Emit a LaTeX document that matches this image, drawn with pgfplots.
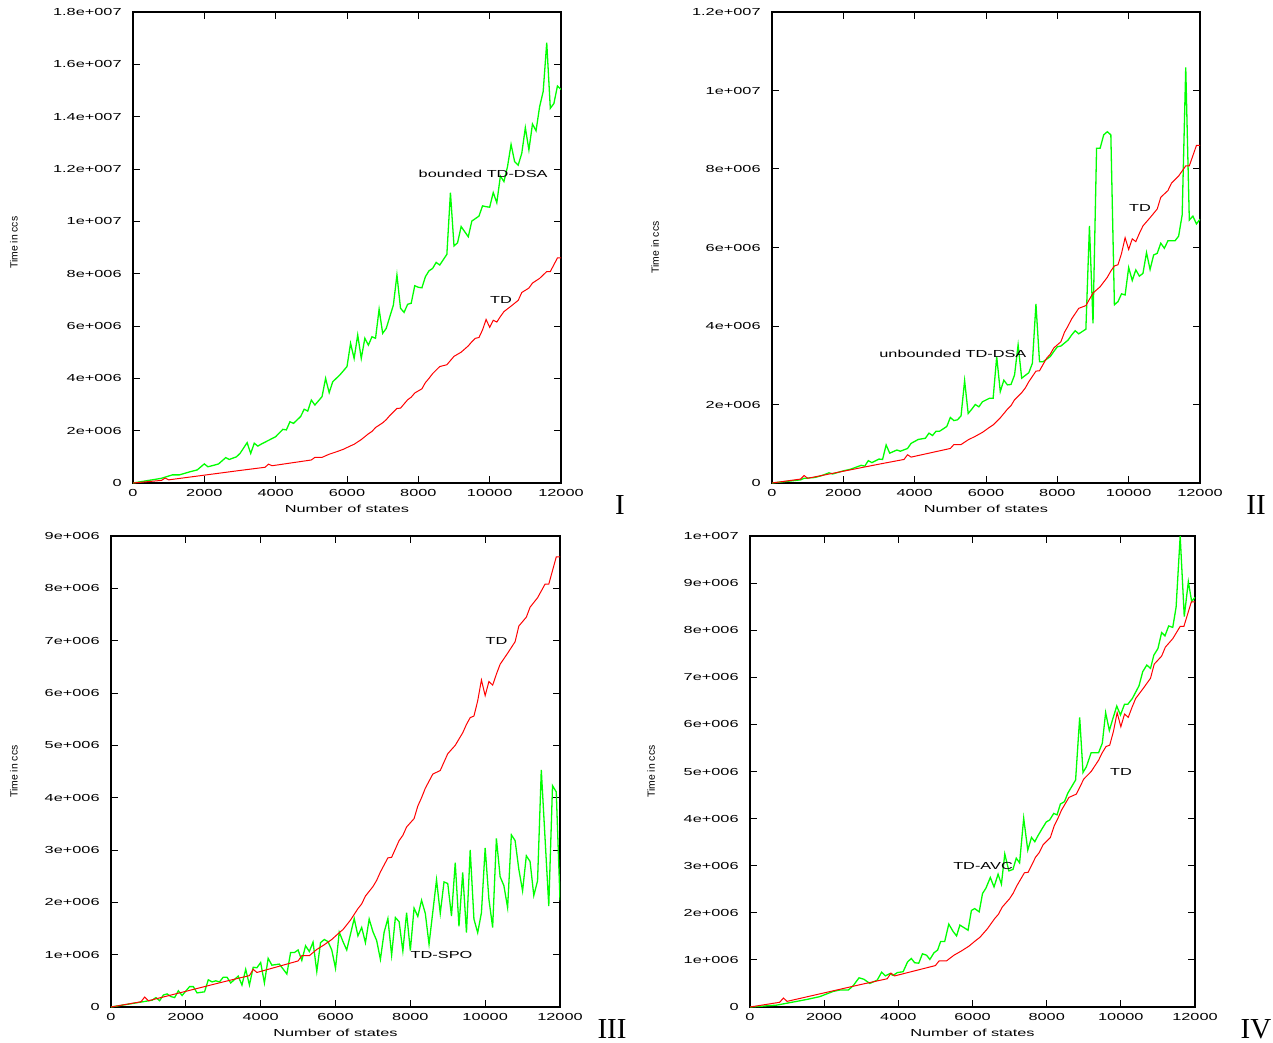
\documentclass[border=0pt]{standalone}
\usepackage{fontspec}
\usepackage{pgfplots}
\pgfplotsset{compat=1.18}
\usepackage{pgfplotstable}

\newfontfamily\gpfont[FakeStretch=1.6]{Liberation Sans}
\newfontfamily\labfont{Liberation Sans}
\newfontfamily\romfont{Liberation Serif}
\newcommand\gp{\gpfont\fontsize{5.1}{6}\selectfont}
\definecolor{gpgreen}{RGB}{0,255,0}
\definecolor{gpred}{RGB}{255,0,0}

% times in units of 1e6 ccs
\pgfplotstableread{
x y
0 0
800 0.10
900 0.19
1000 0.12
2000 0.30
3000 0.48
3700 0.60
3800 0.72
3900 0.66
4500 0.78
5000 0.88
5100 0.98
5300 0.98
5500 1.10
5700 1.19
5900 1.29
6100 1.42
6200 1.48
6400 1.66
6600 1.88
6700 1.97
6800 2.12
7000 2.30
7100 2.42
7200 2.58
7400 2.85
7500 2.86
7700 3.18
7800 3.28
7900 3.44
8100 3.60
8200 3.84
8300 4.00
8400 4.18
8600 4.45
8800 4.52
9000 4.84
9100 4.92
9200 5.00
9400 5.24
9500 5.40
9600 5.53
9700 5.56
9800 5.85
9900 6.25
10000 5.95
10100 6.22
10200 6.15
10300 6.36
10400 6.55
10600 6.76
10800 6.98
10900 7.28
11100 7.45
11200 7.64
11400 7.82
11600 8.08
11700 8.08
11900 8.60
12000 8.60
}\td

\pgfplotstableread{
x y
0 0
800 0.18
1100 0.31
1300 0.31
1600 0.43
1800 0.50
2000 0.73
2100 0.62
2300 0.69
2400 0.73
2600 0.97
2700 0.90
2900 1.00
3000 1.13
3200 1.54
3300 1.13
3400 1.52
3500 1.41
3600 1.49
4000 1.77
4200 2.05
4300 2.03
4400 2.34
4500 2.28
4700 2.54
4800 2.82
4900 2.75
5000 3.17
5100 2.98
5300 3.30
5400 4.00
5500 3.45
5600 3.87
5800 4.13
6000 4.45
6100 5.34
6200 4.76
6300 5.66
6400 4.76
6500 5.53
6600 5.27
6700 5.59
6800 5.53
6900 6.64
7000 5.72
7100 5.91
7300 6.80
7400 7.95
7500 6.68
7600 6.52
7700 6.83
7800 6.87
7900 7.54
8000 7.48
8100 7.46
8200 7.89
8300 8.11
8400 8.20
8500 8.43
8600 8.33
8800 8.74
8900 11.10
9000 9.06
9100 9.18
9200 9.80
9400 9.41
9500 10.01
9700 10.20
9800 10.59
9900 10.56
10000 10.54
10100 11.10
10200 10.71
10300 11.73
10400 11.52
10500 12.09
10600 12.94
10700 12.28
10800 12.15
10900 12.60
11000 13.58
11100 12.73
11200 13.72
11300 13.46
11400 14.38
11500 14.96
11600 16.83
11700 14.32
11800 14.50
11900 15.17
12000 15.04
}\bounded

\pgfplotstableread{
x y
0 0
800 0.08
900 0.12
1200 0.14
1400 0.19
1600 0.26
1700 0.23
2000 0.31
2200 0.35
2500 0.45
2600 0.43
2700 0.57
2800 0.52
3000 0.61
3100 0.60
3200 0.97
3300 0.76
3500 0.84
3600 0.81
3800 0.88
3900 1.01
4100 1.11
4300 1.14
4400 1.27
4500 1.21
4600 1.32
4700 1.32
4900 1.44
5000 1.67
5100 1.59
5200 1.61
5300 1.71
5400 2.61
5500 1.77
5600 1.88
5700 2.00
5800 1.94
5900 2.07
6100 2.16
6200 2.16
6300 3.22
6400 2.33
6500 2.62
6600 2.50
6700 2.51
6800 2.75
6900 3.52
7000 2.67
7200 2.81
7300 3.05
7400 4.56
7500 3.09
7600 3.09
7800 3.22
7900 3.35
8000 3.47
8100 3.49
8300 3.64
8400 3.77
8500 3.88
8600 3.80
8800 3.92
8900 6.55
9000 4.07
9100 8.53
9200 8.53
9300 8.87
9400 8.95
9500 8.87
9600 4.54
9700 4.62
9800 4.82
9900 4.79
10000 5.49
10100 5.16
10200 5.43
10300 5.27
10400 5.34
10500 5.87
10600 5.44
10700 5.81
10800 5.85
10900 6.11
11000 5.98
11100 6.17
11300 6.17
11400 6.29
11500 6.83
11600 10.59
11700 6.70
11800 6.80
11900 6.60
12000 6.72
}\unbounded

\pgfplotstableread{
x y
0 0
600 0.07
1100 0.13
1200 0.18
1300 0.12
1400 0.23
1500 0.25
1600 0.20
1700 0.18
1800 0.31
1900 0.22
2100 0.39
2200 0.39
2300 0.27
2500 0.29
2600 0.52
2700 0.48
2800 0.50
2900 0.48
3000 0.57
3100 0.57
3200 0.46
3400 0.59
3500 0.42
3600 0.72
3700 0.42
3800 0.76
3900 0.75
4000 0.85
4100 0.46
4200 0.93
4300 0.80
4500 0.82
4700 0.63
4800 1.04
4900 1.04
5000 1.09
5100 0.89
5200 1.17
5300 1.06
5400 1.24
5500 0.68
5600 1.23
5700 1.29
5800 1.25
5900 1.09
6000 0.74
6100 1.43
6200 1.25
6300 1.09
6500 1.69
6600 1.36
6700 1.52
6800 1.23
6900 1.68
7000 1.44
7100 1.27
7200 0.91
7300 1.43
7400 1.69
7500 0.99
7600 1.71
7700 1.63
7800 1.07
7900 1.80
8000 1.08
8100 1.89
8200 1.73
8300 2.04
8400 1.79
8500 1.20
8700 2.43
8800 1.79
8900 2.39
9000 2.36
9100 1.74
9200 2.76
9300 1.54
9400 2.57
9500 1.42
9600 3.00
9700 1.68
9800 1.42
9900 1.80
10000 3.04
10100 2.06
10200 1.52
10300 3.22
10400 2.49
10500 2.32
10600 1.90
10700 3.29
10800 3.18
10900 2.63
11000 2.22
11100 2.89
11200 2.78
11300 2.13
11400 2.41
11500 4.53
11700 1.93
11800 4.23
11900 4.11
12000 2.04
}\spo

\pgfplotstableread{
x y
0 0
720 0.04
1530 0.16
1880 0.22
2240 0.33
2420 0.36
2650 0.36
2780 0.45
2940 0.62
3070 0.59
3230 0.50
3430 0.57
3550 0.74
3650 0.66
3770 0.71
3860 0.67
3970 0.73
4130 0.75
4250 0.96
4350 1.03
4440 0.94
4550 0.93
4650 1.13
4760 1.10
4850 1.01
4960 1.15
5060 1.21
5140 1.39
5250 1.39
5360 1.76
5480 1.60
5570 1.51
5660 1.74
5760 1.69
5880 1.63
5970 2.05
6060 2.09
6180 2.02
6270 2.41
6360 2.52
6480 2.75
6580 2.55
6690 2.82
6780 2.61
6870 3.25
6980 2.89
7090 2.92
7180 3.16
7270 3.06
7380 4.01
7490 3.33
7590 3.60
7680 3.51
7760 3.63
7880 3.79
7990 3.93
8080 3.97
8190 4.11
8280 4.08
8370 4.31
8480 4.36
8570 4.54
8780 4.82
8890 6.15
8980 4.98
9070 5.10
9200 5.40
9400 5.40
9500 5.60
9590 6.25
9690 5.87
9780 6.11
9890 6.39
9990 6.20
10100 6.43
10190 6.43
10310 6.55
10490 6.82
10590 7.12
10700 7.26
10800 7.19
10890 7.47
11000 7.61
11100 7.95
11190 7.88
11290 8.09
11400 8.06
11490 8.49
11600 10.00
11710 8.29
11820 9.03
11910 8.61
12000 8.70
}\avc

\pgfplotsset{
  panel/.style={
    scale only axis, anchor=south west,
    height=235.5pt,
    xmin=0, xmax=12000, ymin=0,
    scaled x ticks=false, scaled y ticks=false,
    axis line style={line width=0.7pt},
    tick align=inside, major tick length=3.5pt,
    every tick/.style={line width=0.5pt, black},
    tick pos=both, xticklabel pos=lower, yticklabel pos=left,
    xtick={0,2000,4000,6000,8000,10000,12000},
    xticklabels={0,2000,4000,6000,8000,10000,12000},
    tick label style={font=\gp, inner sep=0pt},
    xticklabel style={anchor=north, yshift=-3.2pt},
    yticklabel style={anchor=east, xshift=-5.5pt},
    xlabel={Number of states},
    xlabel style={font=\gp, at={(axis description cs:0.5,0)}, anchor=north, inner sep=0pt, yshift=-10.7pt},
    ylabel={Time in ccs},
    ylabel style={font=\labfont\fontsize{5.2}{6}\selectfont, anchor=center, inner sep=0pt},
  },
  tdline/.style={color=gpred, line width=0.5pt},
  gline/.style={color=gpgreen, line width=0.65pt},
}
\tikzset{lab/.style={anchor=west, font=\gp, inner sep=0pt}}

\begin{document}
\begin{tikzpicture}
\useasboundingbox (0,0) rectangle (636.5pt,-521.5pt);

% I
\begin{axis}[panel, at={(66.5pt,-241.5pt)}, width=214pt,
  ymax=18, ytick={0,2,4,6,8,10,12,14,16,18},
  yticklabels={0,2e+006,4e+006,6e+006,8e+006,1e+007,1.2e+007,1.4e+007,1.6e+007,1.8e+007},
  ylabel style={at={(axis description cs:-0.278,0.51)}}]
\addplot[gline] table {\bounded};
\addplot[tdline] table {\td};
\node[lab] at (axis cs:8000,11.8) {bounded TD-DSA};
\node[lab] at (axis cs:10000,7.0) {TD};
\end{axis}

% II
\begin{axis}[panel, at={(386pt,-241.5pt)}, width=214pt,
  ymax=12, ytick={0,2,4,6,8,10,12},
  yticklabels={0,2e+006,4e+006,6e+006,8e+006,1e+007,1.2e+007},
  ylabel style={at={(axis description cs:-0.273,0.5)}}]
\addplot[gline] table {\unbounded};
\addplot[tdline] table {\td};
\node[lab] at (axis cs:10000,7.0) {TD};
\node[lab] at (axis cs:3000,3.29) {unbounded TD-DSA};
\end{axis}

% III
\begin{axis}[panel, at={(55.5pt,-503.5pt)}, width=224.5pt,
  ymax=9, ytick={0,1,2,3,4,5,6,7,8,9},
  yticklabels={0,1e+006,2e+006,3e+006,4e+006,5e+006,6e+006,7e+006,8e+006,9e+006},
  ylabel style={at={(axis description cs:-0.216,0.5)}}]
\addplot[gline] table {\spo};
\addplot[tdline] table {\td};
\node[lab] at (axis cs:10000,7.0) {TD};
\node[lab] at (axis cs:8000,1.0) {TD-SPO};
\end{axis}

% IV
\begin{axis}[panel, at={(375pt,-503.5pt)}, width=222.5pt,
  ymax=10, ytick={0,1,2,3,4,5,6,7,8,9,10},
  yticklabels={0,1e+006,2e+006,3e+006,4e+006,5e+006,6e+006,7e+006,8e+006,9e+006,1e+007},
  ylabel style={at={(axis description cs:-0.222,0.5)}}]
\addplot[gline] table {\avc};
\addplot[tdline] table {\td};
\node[lab] at (axis cs:9700,5.0) {TD};
\node[lab] at (axis cs:5470,3.0) {TD-AVC};
\end{axis}

\node[font=\romfont\fontsize{14.5}{16}\selectfont] at (310pt,-252.5pt) {I};
\node[font=\romfont\fontsize{14.5}{16}\selectfont] at (628pt,-252.5pt) {II};
\node[font=\romfont\fontsize{14.5}{16}\selectfont] at (306pt,-514.5pt) {III};
\node[font=\romfont\fontsize{14.5}{16}\selectfont] at (628pt,-514.5pt) {IV};
\end{tikzpicture}
\end{document}
